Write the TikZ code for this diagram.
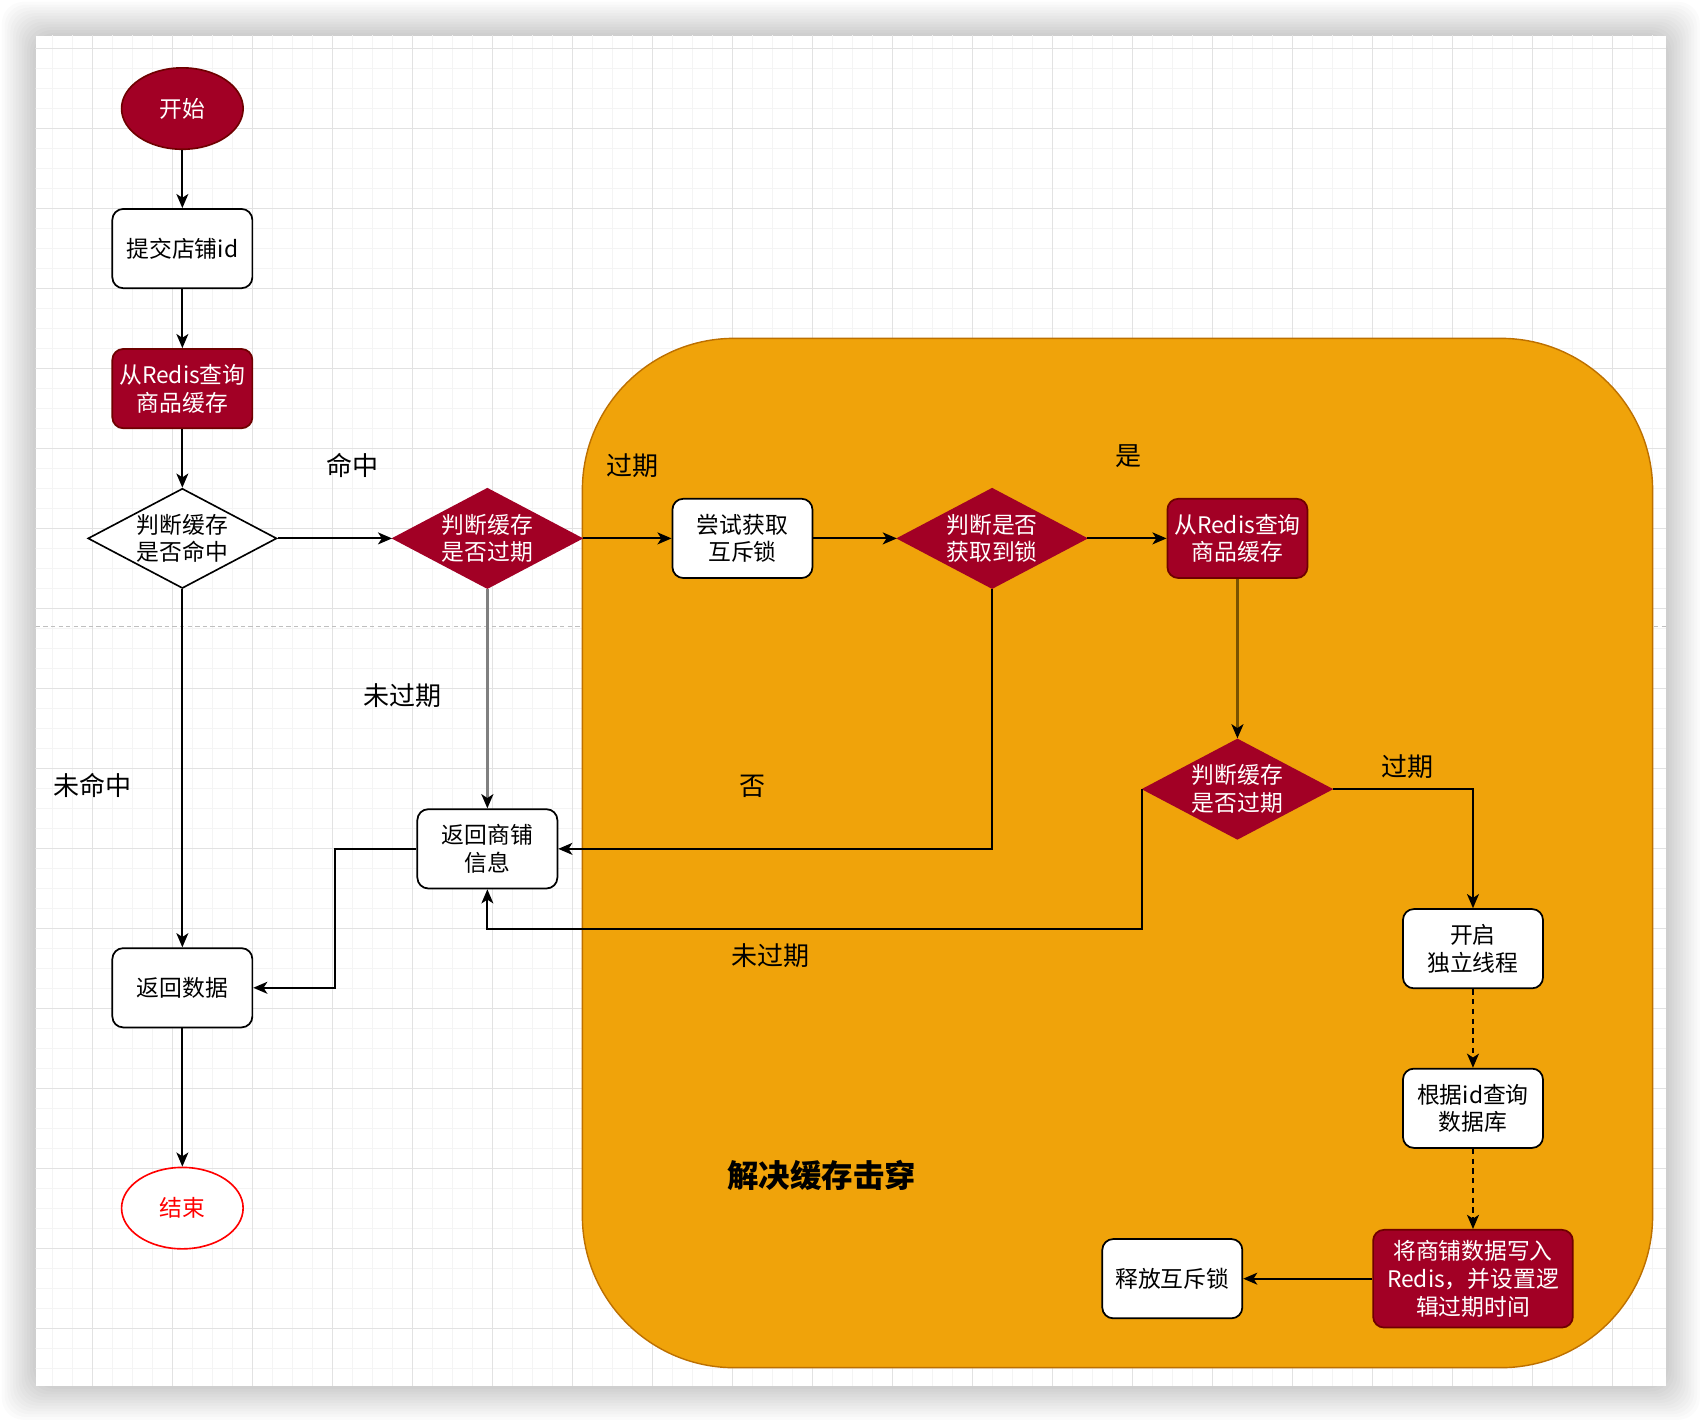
\documentclass[tikz,border=0pt]{standalone}
\usepackage{fontspec}
\setmainfont{Noto Sans CJK SC}
\usetikzlibrary{shapes.geometric,arrows.meta}
\definecolor{crim}{HTML}{A20025}
\definecolor{crimdark}{HTML}{6F0000}
\definecolor{orng}{HTML}{F0A30A}
\definecolor{orngdark}{HTML}{BD7000}
\definecolor{gridmaj}{HTML}{E2E2E2}
\definecolor{gridmin}{HTML}{F4F4F4}
\definecolor{brownln}{HTML}{7A5200}
\definecolor{grayln}{HTML}{808080}
\begin{document}
\begin{tikzpicture}[x=1pt,y=-1pt,
  tip/.style={-{Stealth[length=13pt,width=11pt,inset=3.5pt,color=black]}},
  conn/.style={tip,line width=1.8pt},
  wbox/.style={draw=black,fill=white,line width=1.6pt,rounded corners=10pt,minimum width=129pt,minimum height=73pt,align=center,font=\fontsize{21}{25.5}\selectfont,inner sep=0pt},
  rbox/.style={wbox,draw=crimdark,fill=crim,text=white},
  dia/.style={diamond,minimum width=174pt,minimum height=92pt,inner sep=0pt,line width=1.5pt},
  dtext/.style={align=center,font=\fontsize{21}{25.5}\selectfont,inner sep=0pt},
  lbl/.style={font=\fontsize{24}{28}\selectfont,inner sep=0pt},
  ell/.style={ellipse,minimum width=112pt,minimum height=75pt,line width=1.5pt,font=\fontsize{21}{25.5}\selectfont,inner sep=0pt},
]
% page and canvas
\fill[white] (0,0) rectangle (1568,1310);
\useasboundingbox (0,0) rectangle (1568,1310);
\foreach \k in {1,...,12}
  \fill[black,opacity=0.016,rounded corners=20pt] ({32.9-\k*2.6},{32.9-\k*2.6}) rectangle ({1534.8+\k*2.6},{1276.8+\k*2.6});
\fill[white] (32.9,32.9) rectangle (1534.8,1276.8);
\begin{scope}
  \clip (32.9,32.9) rectangle (1534.8,1276.8);
  \foreach \i in {-3,...,82} {
    \draw[gridmin,line width=1pt] ({85.4+\i*18.425},0) -- ({85.4+\i*18.425},1310);
  }
  \foreach \i in {-2,...,70} {
    \draw[gridmin,line width=1pt] (0,{44.5+\i*18.425}) -- (1568,{44.5+\i*18.425});
  }
  \foreach \i in {-1,...,20} {
    \draw[gridmaj,line width=1pt] ({85.4+\i*73.7},0) -- ({85.4+\i*73.7},1310);
  }
  \foreach \i in {-1,...,18} {
    \draw[gridmaj,line width=1pt] (0,{44.5+\i*73.7}) -- (1568,{44.5+\i*73.7});
  }
\end{scope}
\draw[black!25,line width=1pt,dash pattern=on 4pt off 3pt] (32.9,577) -- (1534.8,577);
% orange region
\draw[fill=orng,draw=orngdark,line width=1.3pt,rounded corners=140pt] (536.5,311.7) rectangle (1522.5,1260);
\node[font=\bfseries\fontsize{29}{34}\selectfont,inner sep=0pt] (title) at (757,1083) {解决缓存击穿};

% nodes
\node[ell,fill=crim,draw=crimdark,text=white] (start) at (168,100) {开始};
\node[wbox] (submit) at (168,229) {提交店铺id};
\node[rbox] (q1) at (168,358) {从Redis查询\\商品缓存};
\node[dia,draw=black,fill=white] (d1) at (168,496) {};
\node[dtext] (d1t) at (d1) {判断缓存\\是否命中};
\node[dia,fill=crim,draw=crim] (d2) at (449,496) {};
\node[dtext,text=white] (d2t) at (d2) {判断缓存\\是否过期};
\node[wbox] (lock) at (684,496) {尝试获取\\互斥锁};
\node[dia,fill=crim,draw=crim] (d3) at (914,496) {};
\node[dtext,text=white] (d3t) at (d3) {判断是否\\获取到锁};
\node[rbox] (q2) at (1140,496) {从Redis查询\\商品缓存};
\node[dia,fill=crim,draw=crim] (d4) at (1140,727) {};
\node[dtext,text=white] (d4t) at (d4) {判断缓存\\是否过期};
\node[wbox] (thread) at (1357,874) {开启\\独立线程};
\node[wbox] (db) at (1357,1021) {根据id查询\\数据库};
\node[rbox,minimum width=184pt,minimum height=90pt] (write) at (1357,1178) {将商铺数据写入\\Redis，并设置逻\\辑过期时间};
\node[wbox] (unlock) at (1080,1178) {释放互斥锁};
\node[wbox] (ret) at (449,782) {返回商铺\\信息};
\node[wbox] (rd) at (168,910) {返回数据};
\node[ell,draw=red,fill=white,text=red] (end) at (168,1113) {结束};

% labels
\node[lbl] (l1) at (325,429) {命中};
\node[lbl] (l2) at (583,429) {过期};
\node[lbl] (l3) at (1040,420) {是};
\node[lbl] (l4) at (371,641) {未过期};
\node[lbl] (l5) at (85,724) {未命中};
\node[lbl] (l6) at (693,724) {否};
\node[lbl] (l7) at (1297,706) {过期};
\node[lbl] (l8) at (710,880) {未过期};

% helper coordinates
\coordinate (k1) at (449,856);
\coordinate (k2) at (309,782);

% connectors
\draw[conn] (start) -- (submit);
\draw[conn] (submit) -- (q1);
\draw[conn] (q1) -- (d1);
\draw[conn] (d1) -- (d2);
\draw[conn] (d1) -- (rd);
\draw[conn,draw=grayln,line width=2.4pt] (d2) -- (ret);
\draw[conn] (d2) -- (lock);
\draw[conn] (lock) -- (d3);
\draw[conn] (d3) -- (q2);
\draw[conn] (d3.south) |- (ret.east);
\draw[conn,draw=brownln,line width=2.4pt] (q2) -- (d4);
\draw[conn] (d4.east) -| (thread.north);
\draw[conn] (d4.west) |- (k1) -- (ret.south);
\draw[conn] (ret.west) -- (k2) |- (rd.east);
\draw[conn,dash pattern=on 5pt off 4pt] (thread) -- (db);
\draw[conn,dash pattern=on 5pt off 4pt] (db) -- (write);
\draw[conn] (write) -- (unlock);
\draw[conn] (rd) -- (end);
\end{tikzpicture}
\end{document}
